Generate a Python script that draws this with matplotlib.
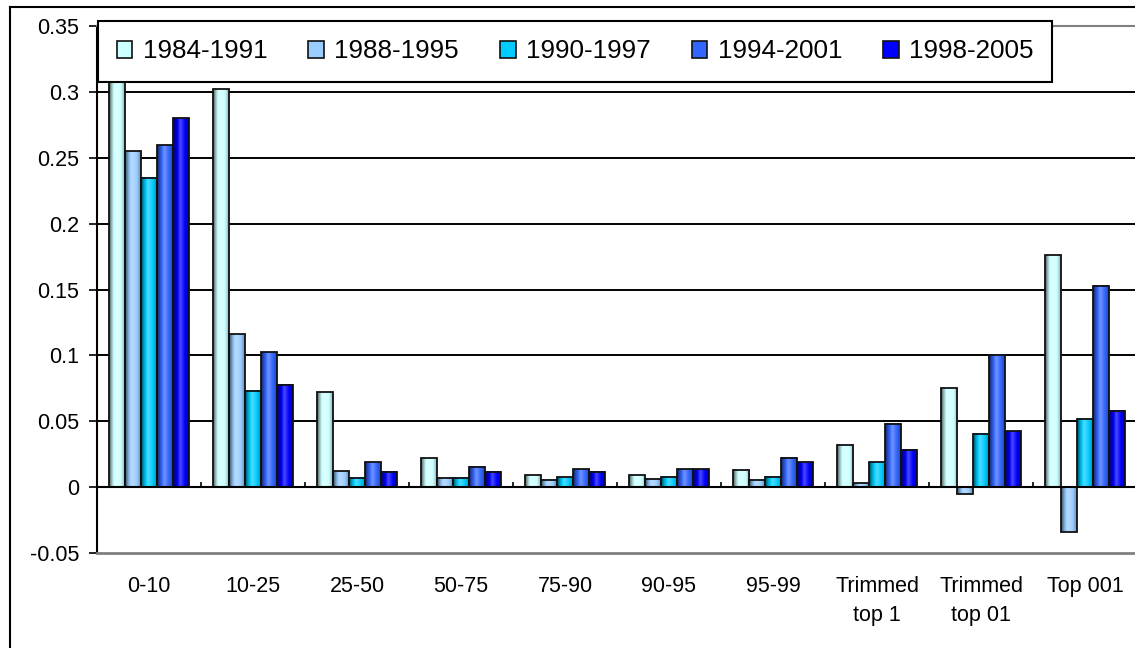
import numpy as np
import matplotlib
matplotlib.use("Agg")
import matplotlib.pyplot as plt
from matplotlib.lines import Line2D
from matplotlib.patches import Patch
from matplotlib.colors import to_rgb

plt.rcParams["font.family"] = ["Liberation Sans", "DejaVu Sans"]

categories = ["0-10", "10-25", "25-50", "50-75", "75-90", "90-95", "95-99",
              "Trimmed\ntop 1", "Trimmed\ntop 01", "Top 001"]

series_names = ["1984-1991", "1988-1995", "1990-1997", "1994-2001", "1998-2005"]

v_1984_1991 = [0.330, 0.302, 0.072, 0.022, 0.009, 0.009, 0.013, 0.032, 0.075, 0.176]
v_1988_1995 = [0.255, 0.116, 0.012, 0.007, 0.0055, 0.0065, 0.0055, 0.003, -0.0053, -0.0337]
v_1990_1997 = [0.235, 0.073, 0.007, 0.007, 0.0074, 0.0078, 0.0078, 0.0187, 0.0407, 0.0518]
v_1994_2001 = [0.2595, 0.1024, 0.0187, 0.0156, 0.0134, 0.0134, 0.0222, 0.048, 0.1004, 0.153]
v_1998_2005 = [0.280, 0.0776, 0.0118, 0.0118, 0.0118, 0.0134, 0.0187, 0.0283, 0.0425, 0.0579]

y_ticks = [-0.05, 0, 0.05, 0.1, 0.15, 0.2, 0.25, 0.3, 0.35]
y_tick_labels = ["-0.05", "0", "0.05", "0.1", "0.15", "0.2", "0.25", "0.3", "0.35"]

series_values = [v_1984_1991, v_1988_1995, v_1990_1997, v_1994_2001, v_1998_2005]
series_colors = ["#CCFFFF", "#99CCFF", "#00CCFF", "#3366FF", "#0000FF"]

W, H = 1135, 648
fig = plt.figure(figsize=(W / 100, H / 100), dpi=100)
ax = fig.add_axes([97 / W, 1 - 553 / H, (1137 - 97) / W, (553 - 26) / H])


def shade_profile(color, n=64):
    """Horizontal cylinder-like shading for a bar face."""
    c = np.array(to_rgb(color))
    t = np.linspace(0, 1, n)
    # factor <1 darkens, >1 lightens toward white
    pts_t = [0.0, 0.15, 0.45, 0.75, 1.0]
    pts_f = [0.35, 0.7, 1.3, 1.0, 0.7]
    f = np.interp(t, pts_t, pts_f)
    rows = []
    for fi in f:
        if fi <= 1:
            rows.append(c * fi)
        else:
            rows.append(c + (1 - c) * (fi - 1))
    return np.clip(np.array(rows), 0, 1)[None, :, :]


x = np.arange(len(categories))
bw = 1 / 6.5
for k, (vals, col) in enumerate(zip(series_values, series_colors)):
    bars = ax.bar(x + (k - 2) * bw, vals, width=bw, facecolor="none",
                  edgecolor="#111111", linewidth=1.3, zorder=4)
    grad = shade_profile(col)
    for b in bars:
        x0, y0 = b.get_x(), b.get_y()
        x1, y1 = x0 + b.get_width(), y0 + b.get_height()
        ax.imshow(grad, extent=(x0, x1, min(y0, y1), max(y0, y1)),
                  aspect="auto", zorder=3, interpolation="bilinear")

ax.set_xlim(-0.5, len(categories) - 0.5)
ax.set_ylim(-0.05, 0.35)

# y axis
ax.set_yticks(y_ticks)
ax.set_yticklabels(y_tick_labels, fontsize=15.5)
ax.tick_params(axis="y", direction="out", length=5.8, width=1.2, pad=7, colors="black")
ax.yaxis.grid(True, color="black", linewidth=1.4, zorder=1)
ax.set_axisbelow(True)
glines = ax.yaxis.get_gridlines()
glines[0].set_visible(False)
glines[1].set_visible(False)
glines[-1].set_visible(False)

# category axis at zero
ax.spines["bottom"].set_position(("data", 0))
ax.spines["bottom"].set_color("black")
ax.spines["bottom"].set_linewidth(1.5)
ax.spines["bottom"].set_zorder(5)
ax.set_xticks(x)
ax.set_xticklabels(categories, fontsize=15.5, linespacing=1.5)
ax.set_xticks(np.arange(0.5, len(categories) - 0.5, 1), minor=True)
ax.tick_params(axis="x", which="major", length=0, pad=64)
ax.tick_params(axis="x", which="minor", direction="in", length=3.8, width=1.2)

ax.spines["left"].set_color("black")
ax.spines["left"].set_linewidth(1.5)
for s in ("top", "right"):
    ax.spines[s].set_color("#808080")
    ax.spines[s].set_linewidth(1.5)
ax.axhline(-0.05, color="#808080", linewidth=2, clip_on=False, zorder=5)

# legend
handles = [Patch(facecolor=c, edgecolor="#111111", linewidth=1.2) for c in series_colors]
leg = fig.legend(handles, series_names, loc="upper left",
                 bbox_to_anchor=(98 / W, 1 - 20.7 / H), borderaxespad=0,
                 ncol=5, fontsize=18.7, handlelength=0.6, handleheight=0.62,
                 handletextpad=0.4, columnspacing=1.58, borderpad=0.72,
                 frameon=True, fancybox=False, framealpha=1)
leg.get_frame().set_edgecolor("black")
leg.get_frame().set_linewidth(1.5)

# chart area border
fig.add_artist(Line2D([10 / W, 10 / W], [0, 1 - 7 / H], color="black", linewidth=1.5))
fig.add_artist(Line2D([10 / W, 1], [1 - 7 / H, 1 - 7 / H], color="black", linewidth=1.5))

fig.savefig("out.png", dpi=100)
